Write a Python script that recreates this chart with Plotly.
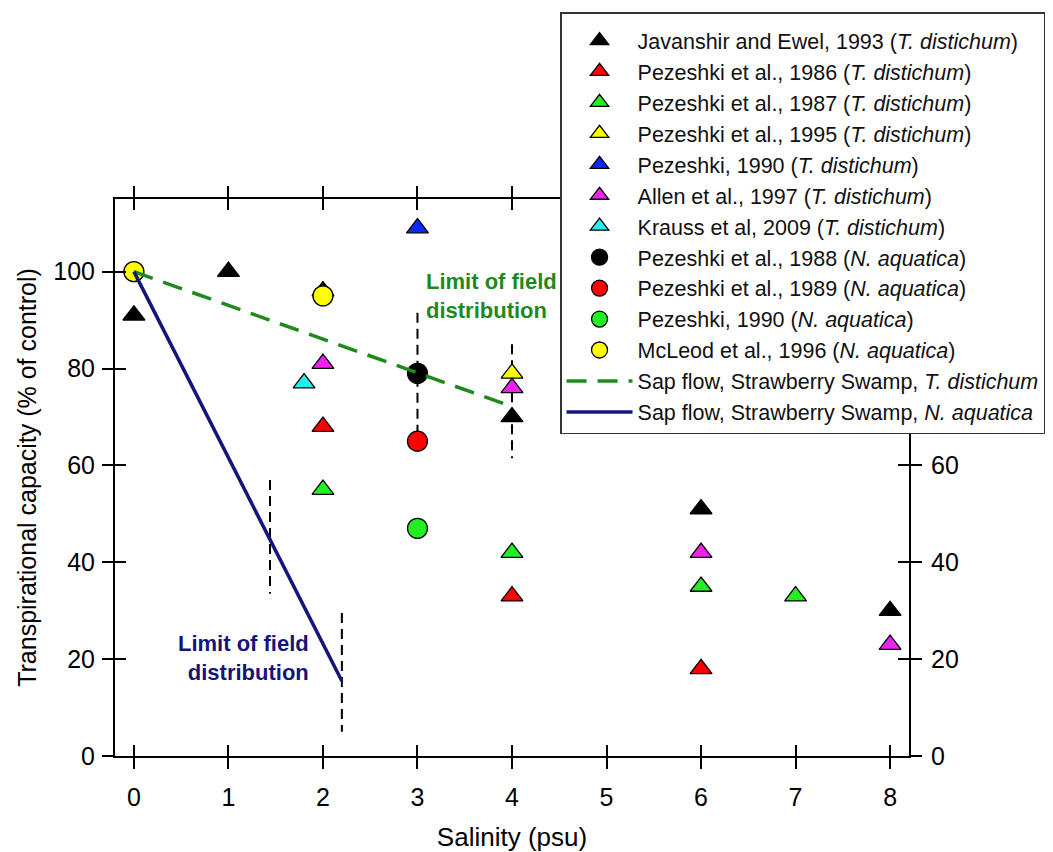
import plotly.graph_objects as go

FONT = "Liberation Sans, Arial, sans-serif"

# ---- data ----
jav_x = [0, 1, 2, 4, 6, 8]
jav_y = [91, 100, 96, 70, 51, 30]
pez86_x = [2, 4, 6]
pez86_y = [68, 33, 18]
pez87_x = [2, 4, 6, 7]
pez87_y = [55, 42, 35, 33]
pez95_x = [4]
pez95_y = [79]
pez90t_x = [3]
pez90t_y = [109]
allen_x = [2, 4, 6, 8]
allen_y = [81, 76, 42, 23]
krauss_x = [1.8]
krauss_y = [77]
pez88_x = [3]
pez88_y = [79]
pez89_x = [3]
pez89_y = [65]
pez90n_x = [3]
pez90n_y = [47]
mcleod_x = [0, 2]
mcleod_y = [100, 95]

sap_t_x = [0, 3.95]
sap_t_y = [100, 72.5]
sap_n_x = [0, 2.2]
sap_n_y = [100, 15.5]

# vertical "limit" bars: x, y_top, y_bottom
lim_x = [3, 4, 1.44, 2.2]
lim_top = [91.5, 85, 57, 29.5]
lim_bot = [65, 61.5, 33.5, 5]

x_ticks = [0, 1, 2, 3, 4, 5, 6, 7, 8]
y_ticks = [0, 20, 40, 60, 80, 100]
y_ticktext_left = ["0", "20", "40", "60", "80", "100"]
y_ticktext_right = ["0", "20", "40", "60", "", ""]  # upper ones hidden behind legend

fig = go.Figure()

marker_series = [
    ("Javanshir and Ewel, 1993 (<i>T. distichum</i>)", jav_x, jav_y, "triangle-up", "#000000"),
    ("Pezeshki et al., 1986 (<i>T. distichum</i>)", pez86_x, pez86_y, "triangle-up", "#ff0000"),
    ("Pezeshki et al., 1987 (<i>T. distichum</i>)", pez87_x, pez87_y, "triangle-up", "#22ee22"),
    ("Pezeshki et al., 1995 (<i>T. distichum</i>)", pez95_x, pez95_y, "triangle-up", "#ffff00"),
    ("Pezeshki, 1990 (<i>T. distichum</i>)", pez90t_x, pez90t_y, "triangle-up", "#0a28ff"),
    ("Allen et al., 1997 (<i>T. distichum</i>)", allen_x, allen_y, "triangle-up", "#ee22ee"),
    ("Krauss et al, 2009 (<i>T. distichum</i>)", krauss_x, krauss_y, "triangle-up", "#22eeee"),
    ("Pezeshki et al., 1988 (<i>N. aquatica</i>)", pez88_x, pez88_y, "circle", "#000000"),
    ("Pezeshki et al., 1989 (<i>N. aquatica</i>)", pez89_x, pez89_y, "circle", "#ff0000"),
    ("Pezeshki, 1990 (<i>N. aquatica</i>)", pez90n_x, pez90n_y, "circle", "#22ee22"),
    ("McLeod et al., 1996 (<i>N. aquatica</i>)", mcleod_x, mcleod_y, "circle", "#ffff00"),
]

# vertical dashed limit bars (drawn first, under markers)
for xv, yt, yb in zip(lim_x, lim_top, lim_bot):
    fig.add_trace(go.Scatter(
        x=[xv, xv], y=[yt, yb], mode="lines",
        line=dict(color="black", width=2, dash="10px,6px"),
        showlegend=False, hoverinfo="skip"))

for name, xs, ys, sym, col in marker_series:
    size = 19 if sym == "triangle-up" else 20
    fig.add_trace(go.Scatter(
        x=xs, y=ys, mode="markers", name=name,
        marker=dict(symbol=sym, size=size, color=col,
                    line=dict(color="black", width=1.3))))

fig.add_trace(go.Scatter(
    x=sap_t_x, y=sap_t_y, mode="lines",
    name="Sap flow, Strawberry Swamp, <i>T. distichum</i>",
    line=dict(color="#1e8a1e", width=3.5, dash="20px,11px")))
fig.add_trace(go.Scatter(
    x=sap_n_x, y=sap_n_y, mode="lines",
    name="Sap flow, Strawberry Swamp, <i>N. aquatica</i>",
    line=dict(color="#14147a", width=3.5)))

# empty trace so the overlay axes render
fig.add_trace(go.Scatter(x=[None], y=[None], xaxis="x2", yaxis="y2",
                         showlegend=False, hoverinfo="skip"))

XR = [-0.2, 8.2]
YR = [0, 115]
tickfont = dict(family=FONT, size=25, color="black")
common = dict(showgrid=False, zeroline=False, tickwidth=2, ticklen=11,
              tickcolor="black", tickfont=tickfont)

fig.update_layout(
    width=1053, height=852,
    margin=dict(l=115, r=144, t=199, b=96, autoexpand=False),
    paper_bgcolor="white", plot_bgcolor="white",
    font=dict(family=FONT, color="black"),
    xaxis=dict(range=XR, tickvals=x_ticks, ticks="outside", mirror="ticks",
               showline=True, linecolor="black", linewidth=2,
               ticklabelstandoff=7,
               title=dict(text="Salinity (psu)", font=dict(family=FONT, size=26),
                          standoff=22),
               **common),
    yaxis=dict(range=YR, tickvals=y_ticks, ticktext=y_ticktext_left,
               ticks="outside", mirror="ticks",
               showline=True, linecolor="black", linewidth=2,
               ticklabelstandoff=2,
               title=dict(text="Transpirational capacity (% of control)",
                          font=dict(family=FONT, size=25), standoff=10),
               **common),
    xaxis2=dict(range=XR, tickvals=x_ticks, ticks="inside", mirror="ticks",
                overlaying="x", side="bottom", showline=False,
                showticklabels=False, **common),
    yaxis2=dict(range=YR, tickvals=y_ticks, ticktext=y_ticktext_right,
                ticks="inside", mirror="ticks",
                overlaying="y", side="right", showline=False,
                showticklabels=True, ticklabelstandoff=21, **common),
    legend=dict(x=0.5605, y=1.3357, xanchor="left", yanchor="top",
                bgcolor="white", bordercolor="#333333", borderwidth=1.5,
                font=dict(family=FONT, size=21.5, color="#111111"),
                title=dict(text=" ", font=dict(size=5)),
                itemwidth=66, tracegroupgap=0),
    showlegend=True,
)

fig.add_annotation(x=3.07, y=95, xref="x", yref="y",
                   text="<b>Limit of field<br>distribution</b>",
                   showarrow=False, xanchor="left", yanchor="middle", align="left",
                   font=dict(family=FONT, size=22, color="#1e8a1e"))
fig.add_annotation(x=1.87, y=20.3, xref="x", yref="y",
                   text="<b>Limit of field<br>distribution</b>",
                   showarrow=False, xanchor="right", yanchor="middle", align="right",
                   font=dict(family=FONT, size=22, color="#14147a"))

fig.write_html("out.html")
